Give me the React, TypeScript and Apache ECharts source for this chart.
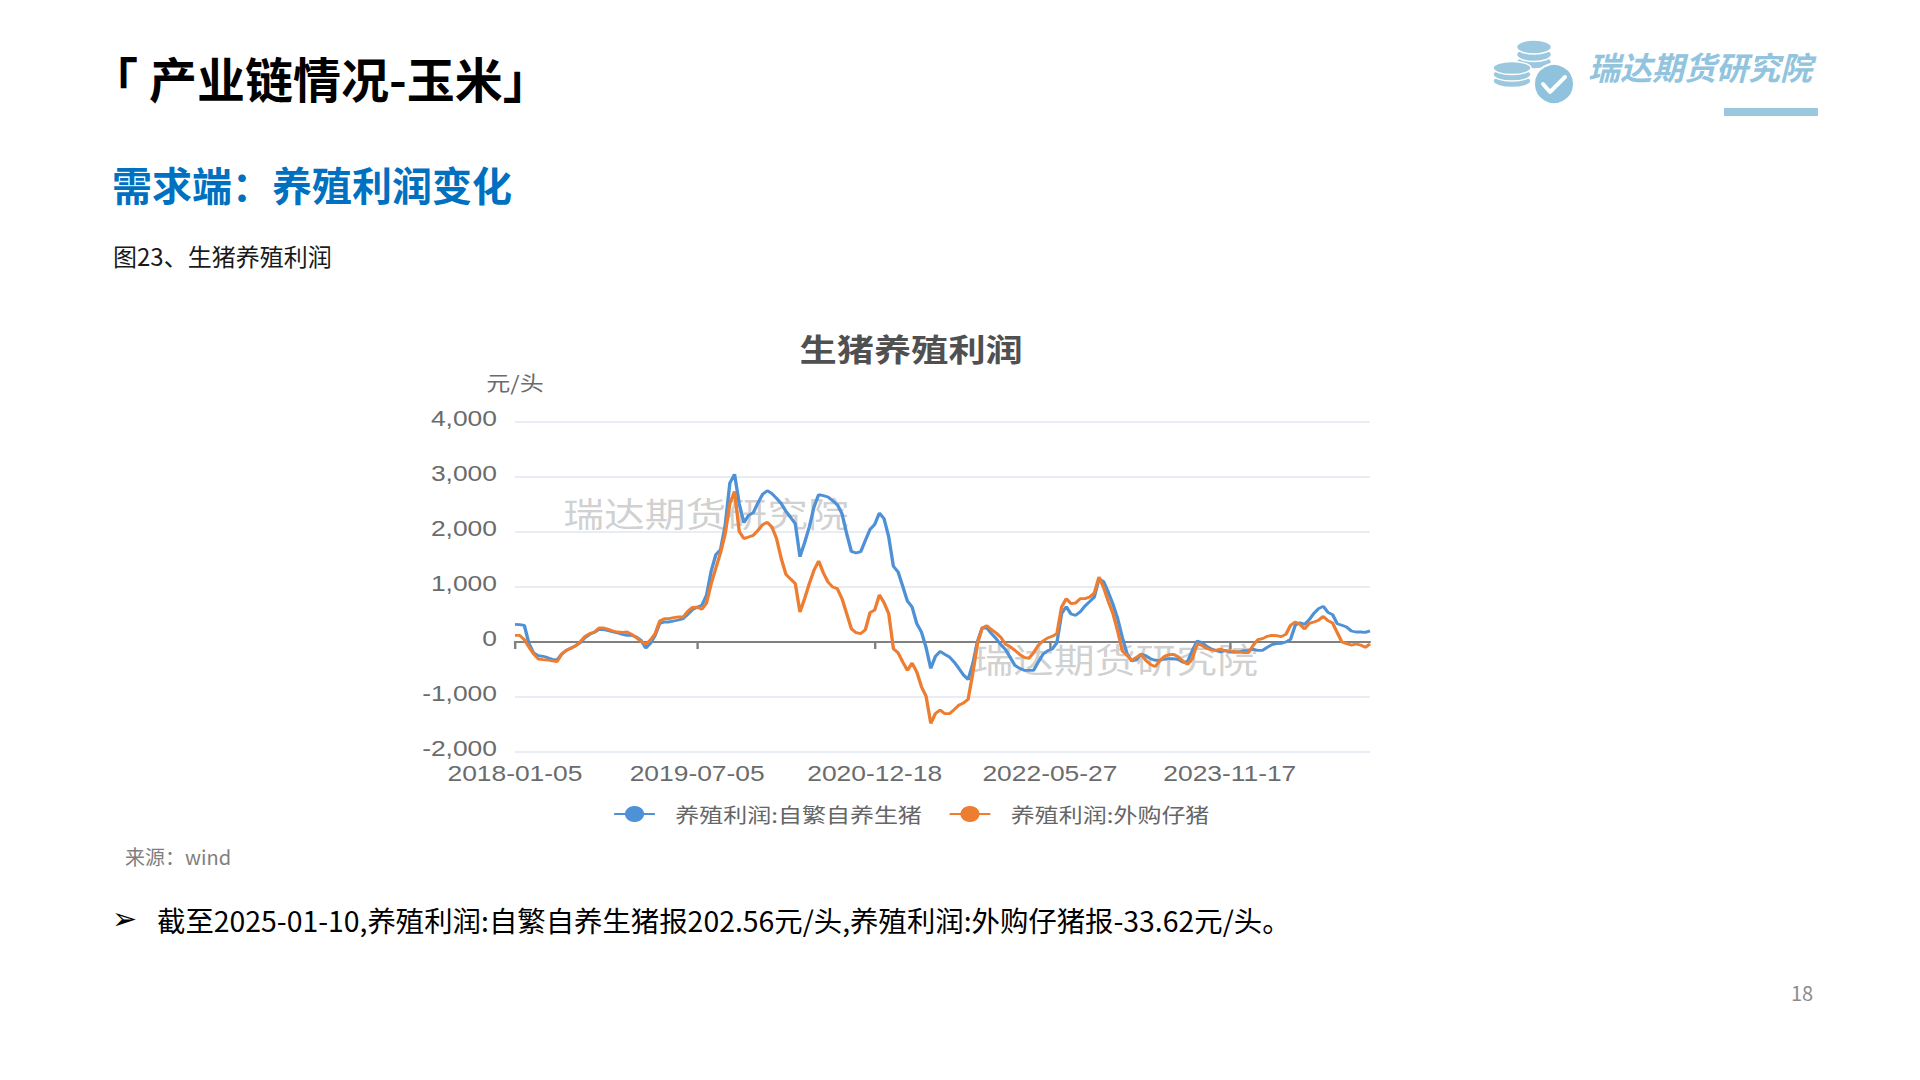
import React, { useEffect, useRef } from 'react';
import * as echarts from 'echarts';

// ---------- data ----------
const START_DATE = '2018-01-05';
const WEEK_COUNT = 367; // weekly Fridays, 2018-01-05 .. 2025-01-10
const SAMPLE_STEP = 2; // values below are read every second week
const TICK_LABELS = ['2018-01-05', '2019-07-05', '2020-12-18', '2022-05-27', '2023-11-17'];
const SERIES_NAMES = ['养殖利润:自繁自养生猪', '养殖利润:外购仔猪'];
const Y_MIN = -2000;
const Y_MAX = 4000;
const Y_INTERVAL = 1000;

const SELF_BRED = [
  321, 315, 303, -30, -200, -248, -260, -285, -315, -327,
  -218, -152, -115, -67, -12, 79, 139, 176, 230, 224,
  206, 182, 164, 139, 121, 121, 91, 30, -109, -24,
  121, 339, 364, 364, 382, 400, 424, 503, 588, 630,
  667, 848, 1291, 1588, 1679, 2121, 2891, 3050, 2515, 2169,
  2303, 2351, 2527, 2685, 2751, 2697, 2612, 2515, 2376, 2266,
  2151, 1550, 1806, 2091, 2454, 2679, 2660, 2636, 2569, 2497,
  2333, 1970, 1648, 1618, 1642, 1848, 2048, 2139, 2345, 2242,
  1909, 1376, 1273, 1012, 745, 636, 333, 182, -103, -480,
  -260, -170, -224, -273, -364, -479, -600, -685, -394, 12,
  255, 255, 152, 61, -48, -139, -279, -424, -479, -515,
  -515, -515, -364, -224, -158, -127, -12, 515, 642, 509,
  485, 551, 654, 733, 818, 1150, 1097, 903, 685, 424,
  79, -212, -345, -327, -218, -248, -303, -333, -333, -309,
  -303, -303, -321, -370, -351, -152, 18, -12, -73, -127,
  -152, -182, -152, -182, -182, -182, -158, -152, -133, -152,
  -152, -97, -48, -30, -24, 0, 48, 303, 351, 321,
  406, 521, 606, 648, 539, 497, 333, 303, 273, 200,
  182, 182, 176, 203,
];

const PURCHASED = [
  121, 121, 42, -91, -218, -309, -321, -327, -345, -358,
  -224, -152, -109, -67, 6, 103, 152, 182, 255, 255,
  230, 200, 182, 176, 182, 139, 79, 12, -42, 36,
  152, 382, 424, 424, 442, 455, 455, 558, 630, 636,
  594, 709, 1061, 1345, 1624, 1970, 2515, 2740, 2012, 1879,
  1909, 1939, 2030, 2133, 2176, 2091, 1879, 1515, 1230, 1145,
  1061, 545, 788, 1061, 1303, 1473, 1260, 1091, 1000, 970,
  788, 515, 242, 170, 152, 224, 533, 582, 855, 715,
  515, -121, -194, -364, -515, -382, -545, -812, -988, -1480,
  -1300, -1236, -1303, -1303, -1230, -1151, -1109, -1042, -564, -30,
  255, 297, 224, 164, 85, -42, -85, -152, -224, -279,
  -297, -194, -61, 18, 73, 103, 152, 636, 788, 697,
  709, 788, 788, 818, 891, 1180, 988, 739, 515, 200,
  -164, -242, -333, -279, -224, -333, -406, -448, -345, -261,
  -230, -224, -273, -351, -406, -303, -30, -61, -115, -145,
  -152, -127, -164, -158, -176, -182, -194, -194, -61, 42,
  61, 103, 121, 115, 97, 139, 303, 364, 321, 236,
  339, 364, 394, 467, 388, 345, 170, 0, -30, -55,
  -36, -55, -97, -34,
];

const SERIES_COLORS = ['#4e91d6', '#ed7d31'];
const FONT = '"Noto Sans CJK SC", "Noto Sans", sans-serif';
const NUM_FONT = '"Liberation Sans", Arial, sans-serif';

function buildWeeklyDates(start: string, count: number): string[] {
  const [y, m, d] = start.split('-').map(Number);
  const t0 = Date.UTC(y, m - 1, d);
  const out: string[] = [];
  for (let i = 0; i < count; i++) {
    out.push(new Date(t0 + i * 7 * 86400000).toISOString().slice(0, 10));
  }
  return out;
}

const DATES = buildWeeklyDates(START_DATE, WEEK_COUNT);

const toPairs = (vals: number[]) => vals.map((v, j) => [DATES[j * SAMPLE_STEP], v]);

// ---------- layout ----------
const STRETCH = 1.2;
const CHART_LEFT = 400;
const CHART_TOP = 320;
const CHART_W = 852;
const CHART_H = 520;

function pageGraphics() {
  const logoBlue = '#9cc8df';
  const coin = (cx: number, cy: number, rx: number, ry: number) => ({
    type: 'ellipse',
    shape: { cx, cy, rx, ry },
    style: { fill: logoBlue, stroke: '#ffffff', lineWidth: 1.5 },
  });
  return [
    {
      type: 'text', x: 90, y: 77,
      style: { text: '「 产业链情况-玉米」', fill: '#000000', fontSize: 48, fontWeight: 'bold', fontFamily: FONT, verticalAlign: 'middle' },
    },
    {
      type: 'text', x: 112, y: 184,
      style: { text: '需求端：养殖利润变化', fill: '#0070C0', fontSize: 40, fontWeight: 'bold', fontFamily: FONT, verticalAlign: 'middle' },
    },
    {
      type: 'text', x: 113, y: 255,
      style: { text: '图23、生猪养殖利润', fill: '#1a1a1a', fontSize: 24, fontFamily: FONT, verticalAlign: 'middle' },
    },
    {
      type: 'text', x: 125, y: 856,
      style: { text: '来源：wind', fill: '#7f7f7f', fontSize: 20, fontFamily: FONT, verticalAlign: 'middle' },
    },
    {
      type: 'text', x: 112, y: 918,
      style: { text: '➢', fill: '#000000', fontSize: 30, fontFamily: '"DejaVu Sans", sans-serif', verticalAlign: 'middle' },
    },
    {
      type: 'text', x: 157, y: 919,
      style: {
        text: '截至2025-01-10,养殖利润:自繁自养生猪报202.56元/头,养殖利润:外购仔猪报-33.62元/头。',
        fill: '#000000', fontSize: 28.4, fontFamily: FONT, verticalAlign: 'middle',
      },
    },
    {
      type: 'text', x: 1802, y: 992,
      style: { text: '18', fill: '#8c8c8c', fontSize: 20, fontFamily: FONT, verticalAlign: 'middle', align: 'center' },
    },
    // logo: coin stacks
    coin(1534, 62, 17.5, 7), coin(1534, 54.5, 17.5, 7), coin(1534, 47, 17.5, 7),
    coin(1512, 81, 19, 6.5), coin(1512, 74.5, 19, 6.5), coin(1512, 68, 19, 6.5),
    {
      type: 'circle', shape: { cx: 1554, cy: 84, r: 20 },
      style: { fill: '#8ec2dd', stroke: '#ffffff', lineWidth: 2 },
    },
    {
      type: 'polyline', shape: { points: [[1543, 84], [1550, 92], [1565, 77]] },
      style: { stroke: '#ffffff', lineWidth: 4, fill: null, lineCap: 'round', lineJoin: 'round' },
    },
    {
      type: 'text', x: 1588, y: 66,
      style: { text: '瑞达期货研究院', fill: '#93c4de', fontSize: 32, fontWeight: 'bold', fontStyle: 'italic', fontFamily: FONT, verticalAlign: 'middle' },
    },
    {
      type: 'rect', shape: { x: 1724, y: 108, width: 94, height: 8 },
      style: { fill: logoBlue },
    },
  ];
}

export default function App() {
  const pageRef = useRef<HTMLDivElement>(null);
  const chartRef = useRef<HTMLDivElement>(null);

  useEffect(() => {
    const page = echarts.init(pageRef.current!, null, { renderer: 'svg' });
    page.setOption({ animation: false, graphic: pageGraphics() });

    const chart = echarts.init(chartRef.current!, null, { renderer: 'svg' });
    const isTick = (_i: number, v: string) => TICK_LABELS.includes(v);
    chart.setOption({
      animation: false,
      textStyle: { fontFamily: FONT },
      title: {
        text: '生猪养殖利润', left: 'center', top: 12, padding: 0,
        textStyle: { fontSize: 31, fontWeight: 'bold', color: '#505050', fontFamily: FONT },
      },
      legend: {
        data: SERIES_NAMES, left: 'center', top: 484, padding: 0,
        itemWidth: 34, itemHeight: 20, itemGap: 22,
        textStyle: { fontSize: 20, color: '#666666', padding: [0, 0, 0, 12], fontFamily: FONT },
      },
      grid: { left: 95.8, right: 43.7, top: 102, bottom: 88, containLabel: false },
      xAxis: [
        {
          type: 'category', data: DATES, boundaryGap: false, position: 'bottom',
          axisLine: { show: false, onZero: false },
          axisTick: { show: false },
          axisLabel: { interval: isTick, fontSize: 22, lineHeight: 22, color: '#6b6b6b', margin: 10, fontFamily: NUM_FONT },
          splitLine: { show: false },
        },
        {
          type: 'category', data: DATES, boundaryGap: false, position: 'top',
          axisLine: { show: true, onZero: true, lineStyle: { color: '#808080', width: 2 } },
          axisTick: { show: true, inside: true, length: 7, interval: isTick, lineStyle: { color: '#808080', width: 2 } },
          axisLabel: { show: false },
          splitLine: { show: false },
        },
      ],
      yAxis: {
        type: 'value', min: Y_MIN, max: Y_MAX, interval: Y_INTERVAL,
        name: '元/头', nameLocation: 'end', nameGap: 30,
        nameTextStyle: { fontSize: 20, color: '#6b6b6b', fontFamily: FONT },
        axisLine: { show: false }, axisTick: { show: false },
        axisLabel: {
          fontSize: 22, lineHeight: 8, verticalAlign: 'bottom', color: '#6b6b6b', margin: 15, fontFamily: NUM_FONT,
          formatter: (v: number) => v.toLocaleString('en-US'),
        },
        splitLine: { lineStyle: { color: '#E0E6F1', width: 1.5 } },
      },
      graphic: [
        {
          type: 'text', x: 136, y: 192, z: 0, silent: true,
          style: { text: '瑞达期货研究院', fill: 'rgba(150,150,150,0.45)', fontSize: 34, fontFamily: FONT, verticalAlign: 'middle' },
        },
        {
          type: 'text', x: 477, y: 338, z: 0, silent: true,
          style: { text: '瑞达期货研究院', fill: 'rgba(150,150,150,0.45)', fontSize: 34, fontFamily: FONT, verticalAlign: 'middle' },
        },
      ],
      series: [
        {
          name: SERIES_NAMES[0], type: 'line', xAxisIndex: 0, yAxisIndex: 0,
          data: toPairs(SELF_BRED), symbol: 'circle', showSymbol: false,
          lineStyle: { width: 2.8, color: SERIES_COLORS[0] }, itemStyle: { color: SERIES_COLORS[0] },
        },
        {
          name: SERIES_NAMES[1], type: 'line', xAxisIndex: 0, yAxisIndex: 0,
          data: toPairs(PURCHASED), symbol: 'circle', showSymbol: false,
          lineStyle: { width: 2.8, color: SERIES_COLORS[1] }, itemStyle: { color: SERIES_COLORS[1] },
        },
      ],
    });

    return () => {
      chart.dispose();
      page.dispose();
    };
  }, []);

  return (
    <div style={{ position: 'fixed', left: 0, top: 0, width: 1920, height: 1080, background: '#ffffff', overflow: 'hidden' }}>
      <div ref={pageRef} style={{ position: 'absolute', left: 0, top: 0, width: 1920, height: 1080 }} />
      <div
        ref={chartRef}
        style={{
          position: 'absolute', left: CHART_LEFT, top: CHART_TOP, width: CHART_W, height: CHART_H,
          transform: `scaleX(${STRETCH})`, transformOrigin: '0 0',
        }}
      />
    </div>
  );
}
